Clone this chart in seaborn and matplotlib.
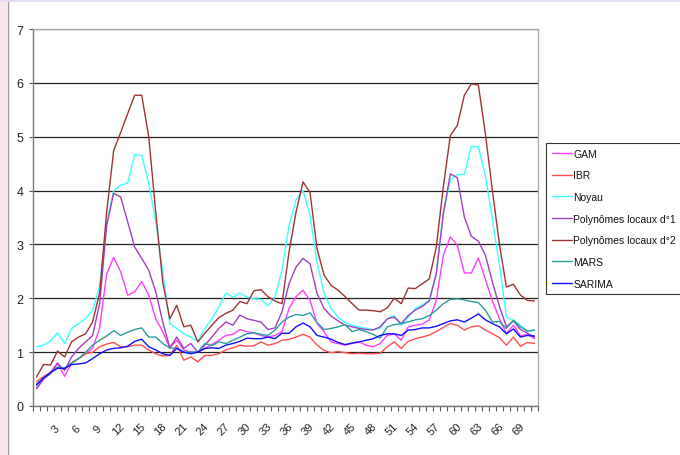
import numpy as np
import pandas as pd
import matplotlib
matplotlib.use("Agg")
import matplotlib.pyplot as plt
import matplotlib.transforms as mtransforms
from matplotlib.patches import Rectangle
from matplotlib.lines import Line2D
import seaborn as sns

# ---------------- data ----------------
semaines = list(range(1, 73))
xtick_labels = [str(v) for v in range(3, 70, 3)]

gam = [0.32, 0.50, 0.63, 0.80, 0.55, 0.80, 0.88, 0.97, 1.07, 1.45,
       2.45, 2.76, 2.49, 2.06, 2.12, 2.31, 2.06, 1.62, 1.38, 1.08,
       1.22, 1.04, 1.00, 1.00, 1.07, 1.14, 1.22, 1.31, 1.33, 1.42,
       1.38, 1.36, 1.31, 1.28, 1.31, 1.38, 1.81, 2.03, 2.15, 1.96,
       1.53, 1.38, 1.19, 1.16, 1.13, 1.16, 1.19, 1.13, 1.10, 1.16,
       1.31, 1.34, 1.22, 1.47, 1.50, 1.52, 1.60, 1.96, 2.80, 3.14,
       2.98, 2.47, 2.47, 2.75, 2.35, 1.95, 1.62, 1.35, 1.50, 1.30,
       1.33, 1.25]
ibr = [0.45, 0.55, 0.62, 0.72, 0.68, 0.80, 0.88, 0.97, 1.00, 1.10,
       1.15, 1.18, 1.10, 1.10, 1.13, 1.13, 1.04, 0.97, 0.93, 0.94,
       1.13, 0.85, 0.91, 0.82, 0.94, 0.94, 0.97, 1.04, 1.08, 1.13,
       1.11, 1.12, 1.19, 1.13, 1.16, 1.22, 1.24, 1.28, 1.33, 1.28,
       1.13, 1.03, 0.99, 1.01, 0.99, 0.97, 0.98, 0.97, 0.97, 0.98,
       1.10, 1.19, 1.07, 1.20, 1.25, 1.28, 1.32, 1.38, 1.46, 1.53,
       1.50, 1.41, 1.47, 1.49, 1.41, 1.34, 1.27, 1.13, 1.28, 1.11,
       1.18, 1.16]
noyau = [1.10, 1.13, 1.21, 1.36, 1.16, 1.44, 1.53, 1.62, 1.78, 2.22,
         3.40, 4.00, 4.10, 4.14, 4.67, 4.65, 4.14, 3.42, 2.49, 1.53,
         1.44, 1.34, 1.28, 1.20, 1.44, 1.62, 1.84, 2.10, 2.02, 2.10,
         2.02, 1.99, 1.98, 1.86, 2.03, 2.52, 3.35, 3.83, 4.00, 3.54,
         2.67, 2.09, 1.81, 1.65, 1.55, 1.50, 1.47, 1.44, 1.42, 1.44,
         1.62, 1.68, 1.50, 1.65, 1.81, 1.88, 1.96, 2.46, 3.57, 4.20,
         4.30, 4.30, 4.83, 4.81, 4.27, 3.47, 2.61, 1.65, 1.59, 1.50,
         1.39, 1.41]
poly1 = [0.33, 0.50, 0.60, 0.79, 0.66, 0.91, 1.07, 1.19, 1.31, 1.90,
         3.35, 3.95, 3.88, 3.42, 2.95, 2.74, 2.52, 2.12, 1.56, 1.08,
         1.28, 1.07, 1.16, 1.00, 1.13, 1.28, 1.44, 1.56, 1.50, 1.69,
         1.62, 1.59, 1.56, 1.42, 1.45, 1.75, 2.27, 2.58, 2.74, 2.64,
         2.09, 1.81, 1.67, 1.58, 1.50, 1.47, 1.44, 1.42, 1.41, 1.47,
         1.62, 1.65, 1.53, 1.68, 1.78, 1.85, 1.95, 2.46, 3.57, 4.31,
         4.24, 3.51, 3.15, 3.06, 2.80, 2.30, 1.85, 1.47, 1.58, 1.42,
         1.35, 1.28]
poly2 = [0.54, 0.77, 0.76, 1.02, 0.91, 1.19, 1.28, 1.34, 1.56, 2.10,
         3.60, 4.74, 5.08, 5.43, 5.77, 5.77, 5.00, 3.60, 2.30, 1.62,
         1.87, 1.47, 1.50, 1.19, 1.35, 1.50, 1.64, 1.72, 1.78, 1.94,
         1.90, 2.14, 2.16, 2.03, 1.95, 1.90, 2.86, 3.60, 4.16, 3.96,
         2.92, 2.43, 2.24, 2.15, 2.03, 1.90, 1.78, 1.78, 1.77, 1.75,
         1.82, 2.00, 1.90, 2.19, 2.18, 2.27, 2.36, 2.95, 4.07, 5.02,
         5.21, 5.77, 5.98, 5.96, 5.05, 4.00, 3.00, 2.21, 2.26, 2.06,
         1.96, 1.95]
mars = [0.38, 0.52, 0.62, 0.72, 0.70, 0.80, 0.88, 1.00, 1.13, 1.22,
        1.30, 1.40, 1.31, 1.37, 1.42, 1.45, 1.28, 1.28, 1.16, 1.08,
        1.07, 1.00, 1.00, 1.00, 1.16, 1.12, 1.19, 1.16, 1.22, 1.28,
        1.34, 1.36, 1.33, 1.31, 1.41, 1.56, 1.65, 1.70, 1.68, 1.73,
        1.55, 1.42, 1.44, 1.47, 1.51, 1.38, 1.42, 1.38, 1.33, 1.26,
        1.47, 1.51, 1.53, 1.56, 1.60, 1.62, 1.68, 1.78, 1.90, 1.98,
        1.99, 1.97, 1.94, 1.92, 1.78, 1.56, 1.57, 1.44, 1.59, 1.47,
        1.39, 1.41]
sarima = [0.40, 0.52, 0.62, 0.70, 0.70, 0.77, 0.78, 0.80, 0.88, 0.97,
          1.04, 1.07, 1.08, 1.11, 1.20, 1.24, 1.10, 1.04, 0.97, 0.94,
          1.07, 1.00, 0.97, 1.00, 1.07, 1.08, 1.07, 1.13, 1.16, 1.20,
          1.26, 1.25, 1.25, 1.28, 1.25, 1.35, 1.35, 1.47, 1.54, 1.47,
          1.31, 1.28, 1.24, 1.18, 1.14, 1.17, 1.19, 1.22, 1.25, 1.31,
          1.34, 1.34, 1.31, 1.41, 1.42, 1.45, 1.45, 1.48, 1.53, 1.58,
          1.60, 1.56, 1.63, 1.71, 1.60, 1.53, 1.47, 1.34, 1.43, 1.28,
          1.31, 1.30]

series_names = ["GAM", "IBR", "Noyau", "Polynômes locaux d°1",
                "Polynômes locaux d°2", "MARS", "SARIMA"]
series_values = [gam, ibr, noyau, poly1, poly2, mars, sarima]
series_colors = ["#FF3CFF", "#FF4F4F", "#3CFFFF", "#A040C0",
                 "#A03434", "#2A9E9A", "#1010FF"]

df = pd.DataFrame({
    "semaine": semaines * len(series_names),
    "valeur": sum(series_values, []),
    "modele": sum([[n] * len(semaines) for n in series_names], []),
})

# ---------------- figure ----------------
sns.set_theme(style="white")
plt.rcParams["font.family"] = ["Liberation Sans", "DejaVu Sans"]

W, H = 680, 456
fig = plt.figure(figsize=(W / 100, H / 100), dpi=100)
fig.patch.set_facecolor("white")

# outer frame decorations
fig.patches.append(Rectangle((0, 0), 7 / W, 1, transform=fig.transFigure,
                             facecolor="#FBE6EC", edgecolor="none", zorder=-5))
fig.patches.append(Rectangle((0, 1 - 3 / H), 1, 3 / H, transform=fig.transFigure,
                             facecolor="#E4DDF2", edgecolor="none", zorder=-5))
fig.add_artist(Line2D([7.5 / W, 7.5 / W], [0, 1 - 3 / H], transform=fig.transFigure,
                      color="#9A9A9A", lw=1.0))

ax = fig.add_axes([33 / W, 49 / H, 505 / W, 377 / H])
ax.set_facecolor("white")

sns.lineplot(data=df, x="semaine", y="valeur", hue="modele",
             hue_order=series_names, palette=series_colors,
             estimator=None, linewidth=1.0, ax=ax, legend=True)

handles, labels = ax.get_legend_handles_labels()
ax.get_legend().remove()

ax.set_xlim(0.5, 72.5)
ax.set_ylim(0, 7)
ax.set_xlabel("")
ax.set_ylabel("")

# horizontal gridlines
ax.set_yticks(range(0, 8))
ax.yaxis.grid(True, color="#202020", linewidth=0.9)
ax.xaxis.grid(False)
ax.set_axisbelow(True)

# spines
for side in ["left", "bottom"]:
    ax.spines[side].set_color("#7A7A7A")
    ax.spines[side].set_linewidth(1.0)
for side in ["top", "right"]:
    ax.spines[side].set_color("#A8A8A8")
    ax.spines[side].set_linewidth(0.9)

# x ticks: boundaries as minor ticks, labels every 3 categories
ax.set_xticks(list(range(3, 70, 3)))
ax.set_xticklabels(xtick_labels, rotation=45, ha="center", va="center",
                   fontsize=8, color="#222222")
ax.set_xticks(np.arange(0.5, 73, 1), minor=True)
ax.tick_params(axis="x", which="minor", length=3.5, width=0.8,
               color="#555555", direction="out", bottom=True)
ax.tick_params(axis="x", which="major", length=0, pad=16, bottom=True)
offset = mtransforms.ScaledTranslation(5 / 100, 0, fig.dpi_scale_trans)
for lbl in ax.get_xticklabels():
    lbl.set_transform(lbl.get_transform() + offset)

ax.tick_params(axis="y", which="major", length=3, width=0.8, color="#555555",
               direction="out", left=True, pad=4, labelsize=9,
               labelcolor="#222222")

# legend
leg = fig.legend(handles, labels, loc="upper left",
                 bbox_to_anchor=(546 / W, 1 - 144 / H),
                 bbox_transform=fig.transFigure, frameon=True, fancybox=False,
                 edgecolor="black", fontsize=7.5, handlelength=1.9,
                 handletextpad=0.15, labelspacing=1.12, borderpad=0.55,
                 borderaxespad=0)
leg.get_frame().set_linewidth(0.8)
for t in leg.get_texts():
    t.set_color("#111111")

fig.savefig("out.png", dpi=100, facecolor=fig.get_facecolor())
